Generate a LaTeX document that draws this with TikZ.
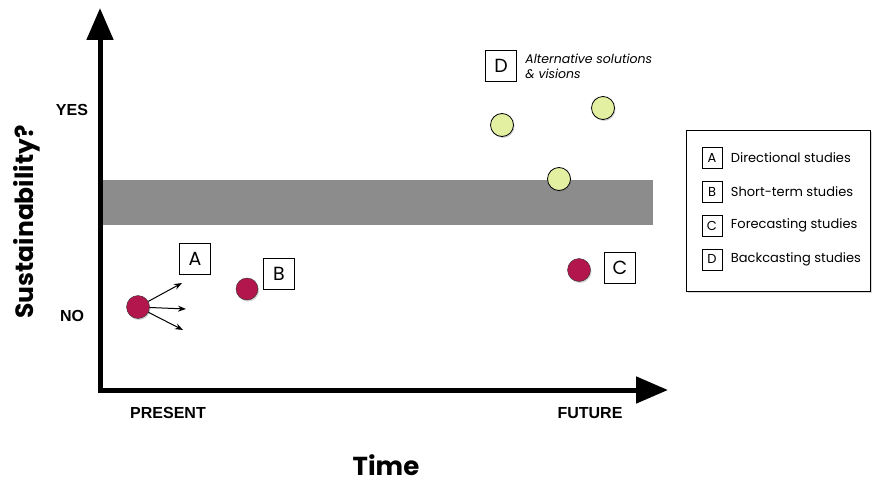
\documentclass[tikz,border=0pt]{standalone}
\usepackage{fontspec}
\setmainfont{Poppins}
\newfontfamily\axisfont{Liberation Sans}
\usetikzlibrary{positioning,arrows.meta,shadows}
\definecolor{nowred}{HTML}{B3164C}
\definecolor{visiongreen}{HTML}{E3F0A2}
\definecolor{bandgray}{HTML}{8C8C8C}

\begin{document}
\begin{tikzpicture}
[x=1pt, y=-1pt, node distance=12pt,
 axis/.style={line width=5pt, line join=miter,
   {Triangle[length=32pt,width=26pt]}-{Triangle[length=32pt,width=26pt]}},
 tick/.style={font=\axisfont\bfseries\fontsize{16}{18}\selectfont},
 letter/.style={draw, thick, fill=white, minimum width=31pt, minimum height=31pt,
   inner sep=0pt, font=\fontsize{19}{20}\selectfont},
 key/.style={draw, thick, minimum width=20pt, minimum height=21pt, inner sep=0pt,
   font=\fontsize{13}{14}\selectfont},
 keytext/.style={right=5pt of #1, font=\fontsize{13}{15}\selectfont},
 now/.style={circle, draw=black!80, fill=nowred, minimum size=23pt, inner sep=0pt,
   drop shadow={opacity=.35, shadow xshift=1pt, shadow yshift=-1.5pt}},
 vision/.style={circle, draw=black, thick, fill=visiongreen, minimum size=23pt,
   inner sep=0pt, drop shadow={opacity=.35, shadow xshift=1pt, shadow yshift=-1.5pt}}]
\useasboundingbox (0,0) rectangle (874,484);

% sustainability band
\fill[bandgray] (103,180) rectangle (653,225);

% axes
\coordinate (ytop) at (100,8);
\coordinate (origin) at (100,390);
\coordinate (xend) at (668,390);
\draw[axis] (ytop) -- (origin) -- (xend);

\node[tick] (yes) at (72,110) {YES};
\node[tick] (no) at (72,316) {NO};
\node[tick] (present) at (168,413) {PRESENT};
\node[tick] (future) at (590,413) {FUTURE};
\node[font=\bfseries\fontsize{26}{28}\selectfont] (time) at (386,465) {Time};
\node[font=\bfseries\fontsize{25}{28}\selectfont, rotate=90] (sust) at (27,222) {Sustainability?};

% studies
\node[now] (now1) at (138,307) {};
\node[now, minimum size=22pt] (now2) at (247,289) {};
\node[now] (now3) at (579,270) {};
\coordinate (up) at (182,283);
\coordinate (mid) at (186,309);
\coordinate (down) at (183,330);
\foreach \t in {up,mid,down}
  \draw[line width=1pt, -{Stealth[length=8pt,width=6pt]}] (now1) -- (\t);

\node[vision] (vis1) at (502,125) {};
\node[vision] (vis2) at (603,108) {};
\node[vision] (vis3) at (559,179) {};

\node[letter] (letA) at (195,259) {A};
\node[letter] (letB) at (279,274) {B};
\node[letter] (letC) at (620,268) {C};
\node[letter] (letD) at (501,66) {D};
\node[right=5pt of letD, align=left, font=\itshape\fontsize{12.5}{15}\selectfont] (dtext)
  {Alternative solutions\\\& visions};

% legend
\node[draw, thick, fill=white, minimum width=184pt, minimum height=161pt,
  drop shadow={opacity=.3, shadow xshift=1.5pt, shadow yshift=-1.5pt}] (legend) at (778,211) {};
\node[key] (ka) at (712,158) {A};
\node[key, below=of ka] (kb) {B};
\node[key, below=of kb] (kc) {C};
\node[key, below=of kc] (kd) {D};
\node[keytext=ka] (ta) {Directional studies};
\node[keytext=kb] (tb) {Short-term studies};
\node[keytext=kc] (tc) {Forecasting studies};
\node[keytext=kd] (td) {Backcasting studies};
\end{tikzpicture}
\end{document}
